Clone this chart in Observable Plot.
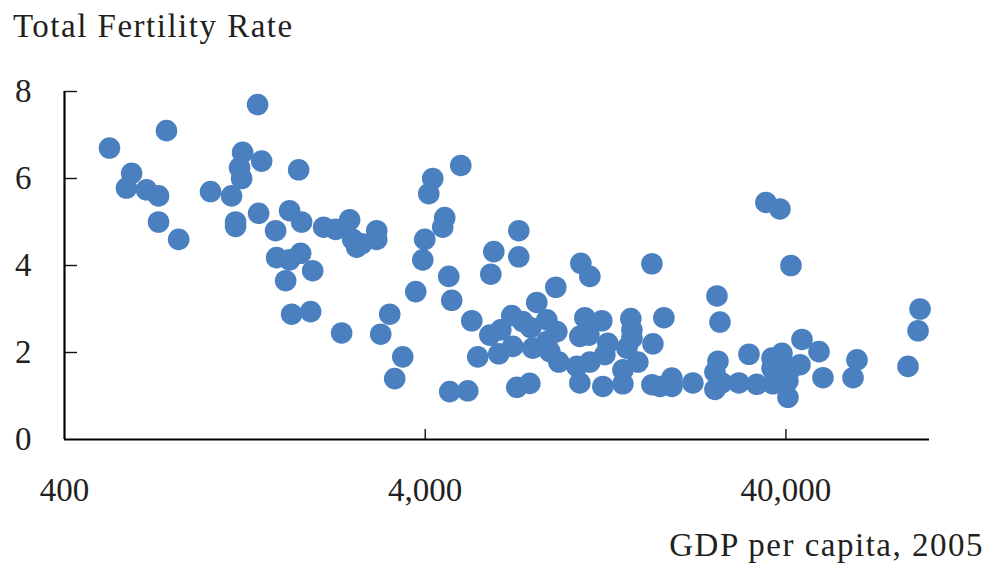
<!DOCTYPE html>
<html>
<head>
<meta charset="utf-8">
<script src="https://cdn.jsdelivr.net/npm/d3@7"></script>
<script src="https://cdn.jsdelivr.net/npm/@observablehq/plot@0.6"></script>
<style>
  html, body { margin: 0; padding: 0; background: #fff; }
  #wrap { position: relative; width: 988px; height: 567px; }
  .lbl { position: absolute; font-family: "Liberation Serif", serif; font-size: 33px; line-height: 33px; color: #231f20; white-space: nowrap; }
</style>
</head>
<body>
<div id="wrap">
  <div class="lbl" id="title" style="left:13px; top:10px; letter-spacing:1.5px;">Total Fertility Rate</div>
  <div class="lbl" id="caption" style="right:4px; top:529px; letter-spacing:1.5px;">GDP per capita, 2005</div>
</div>
<script>
const titleText = "Total Fertility Rate";
const captionText = "GDP per capita, 2005";

// GDP per capita, 2005 (log scale)
const gdp = [533,767,1372,614,594,675,729,729,829,1016,
  1162,1247,1223,1239,1408,1192,1192,1381,1783,1539,
  1683,1817,1549,1683,1806,1641,1950,1705,1925,2092,
  2258,2469,2518,2582,2666,2935,2935,2346,3011,3189,
  3765,3465,3292,3988,3938,4197,4091,4530,4473,5019,
  4648,4738,5384,5593,4677,5248,6197,6079,7267,7267,
  6040,6479,6950,7456,6994,6397,7847,7947,8153,7176,
  7797,10800,11440,9206,8694,9266,8694,8862,9385,11080,
  12350,10730,11370,12830,12590,11440,10530,10730,12430,14860,
  14960,14960,14490,15540,14130,14130,17000,18350,17110,17000,
  17890,19310,19310,22080,25750,26250,25920,25420,25420,26580,
  31590,29620,33230,35200,38490,41300,36580,39000,36580,36810,
  40510,40510,41040,43750,44310,49390,50660,62950,61370,87180,
  94150,92950];

// Total fertility rate
const tfr = [6.7,7.1,7.7,6.12,5.78,5.74,5.6,5.0,4.6,5.7,
  5.6,6.6,6.25,6.0,6.4,5.0,4.9,5.2,6.2,4.8,
  5.26,5.0,4.18,4.13,4.28,3.65,3.88,2.88,2.94,4.88,
  4.83,5.05,4.6,4.42,4.5,4.8,4.6,2.45,2.42,2.88,
  3.4,1.9,1.4,4.6,4.13,6.0,5.65,5.1,4.88,6.3,
  3.75,3.2,2.73,1.9,1.1,1.12,4.32,3.8,4.8,4.2,
  2.4,2.52,2.85,2.71,2.14,1.97,2.57,2.1,3.15,1.2,
  1.29,4.05,3.75,3.5,2.75,2.48,2.25,2.02,1.78,2.8,
  2.73,2.37,2.4,2.21,1.95,1.78,1.68,1.3,1.22,2.78,
  2.52,2.33,2.1,1.78,1.6,1.28,4.04,2.8,2.2,1.26,
  1.22,1.41,1.22,1.3,3.3,2.7,1.8,1.55,1.15,1.3,
  1.96,1.3,1.27,5.45,5.3,4.0,1.87,1.98,1.64,1.28,
  1.35,0.97,1.6,1.72,2.3,2.02,1.42,1.83,1.42,1.68,
  3.0,2.5];

const xDomain = [400, 100000];
const yDomain = [0, 8];
const xTickLabels = [400, 4000, 40000];
const xTickMarks = [4000, 40000];
const yTicks = [0, 2, 4, 6, 8];
const yTickMarks = [2, 4, 6, 8];

const points = gdp.map((g, i) => ({gdp: g, tfr: tfr[i]}));

const W = 988, H = 567, ML = 64, MR = 59, MT = 91, MB = 128;
const frameW = W - ML - MR, frameH = H - MT - MB;

const chart = Plot.plot({
  width: W,
  height: H,
  marginLeft: ML,
  marginRight: MR,
  marginTop: MT,
  marginBottom: MB,
  style: {fontFamily: "Liberation Serif, serif", fontSize: "33px", color: "#231f20", background: "transparent"},
  x: {type: "log", domain: xDomain},
  y: {domain: yDomain},
  marks: [
    Plot.axisY({ticks: yTicks, tickSize: 0, tickPadding: 33, label: null, fill: "#231f20"}),
    Plot.axisX({ticks: xTickLabels, tickSize: 0, tickPadding: 38, label: null, tickFormat: d3.format(","), fill: "#231f20"}),
    // inward tick marks
    Plot.tickY(yTickMarks, {y: d => d, insetRight: frameW - 13, stroke: "#111", strokeWidth: 1.4}),
    Plot.tickX(xTickMarks, {x: d => d, insetTop: frameH - 10, stroke: "#111", strokeWidth: 1.4}),
    Plot.dot(points, {x: "gdp", y: "tfr", r: 10.8, fill: "#4a80c0", stroke: null}),
    Plot.ruleX([xDomain[0]], {stroke: "#000", strokeWidth: 2.2}),
    Plot.ruleY([yDomain[0]], {stroke: "#000", strokeWidth: 2.2})
  ]
});
chart.style.position = "absolute";
chart.style.left = "0px";
chart.style.top = "0px";
document.getElementById("wrap").prepend(chart);
</script>
</body>
</html>
